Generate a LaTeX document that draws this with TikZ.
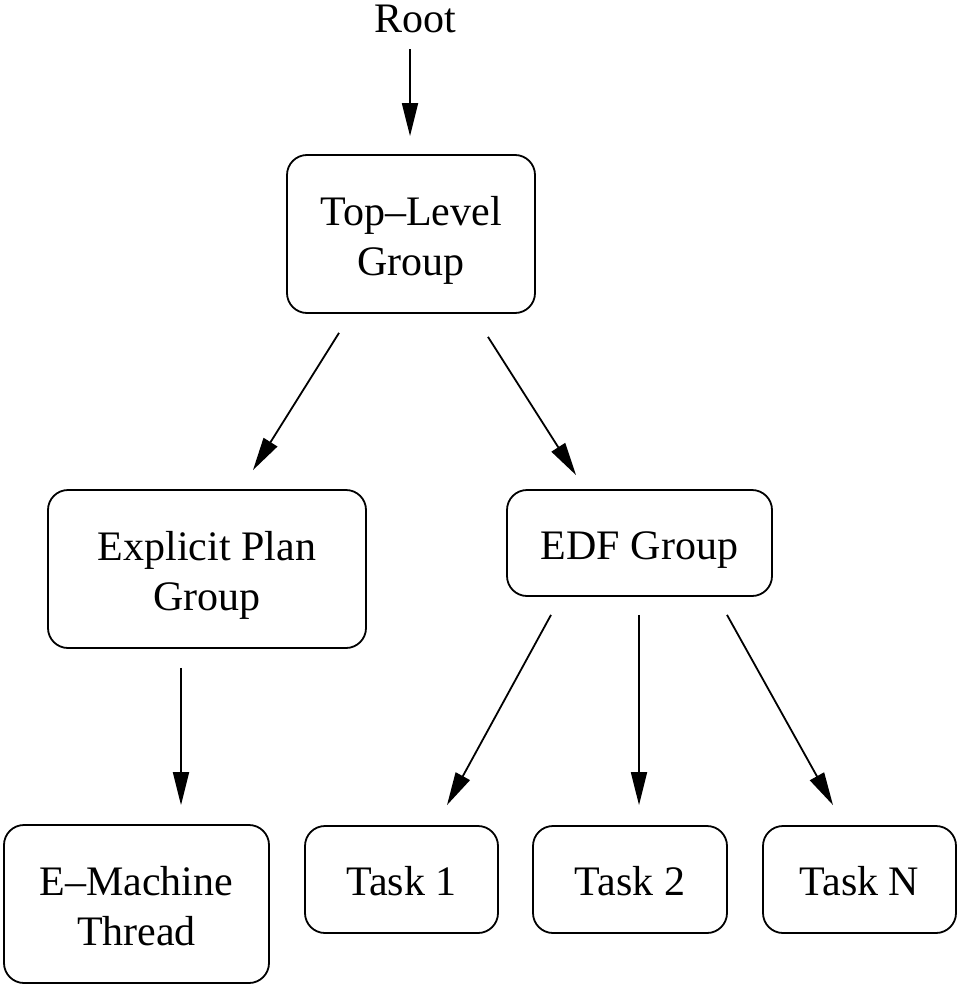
\documentclass[tikz,border=0pt]{standalone}
\usepackage{fontspec}
\setmainfont{Liberation Serif}
\usetikzlibrary{arrows.meta}
\newcommand\boxtext[1]{\raisebox{-6pt}[\height][\depth]{\begin{tabular}{@{}c@{}}#1\end{tabular}}}
\begin{document}
\begin{tikzpicture}[x=1pt,y=-1pt,
  box/.style={draw, line width=1.8pt, rounded corners=20pt, inner sep=0pt,
    font=\fontsize{42}{50}\selectfont},
  arr/.style={line width=1.8pt, -{Triangle[length=33pt,width=16pt]}},
  lbl/.style={inner sep=0pt, font=\fontsize{42}{50}\selectfont}]
\useasboundingbox (0,0) rectangle (957,985);
\node[lbl, anchor=base] (root) at (415,32) {Root};
\node[box, minimum width=248pt, minimum height=158pt] (top) at (411,234) {\boxtext{Top--Level\\Group}};
\node[box, minimum width=318pt, minimum height=158pt] (exp) at (207,569) {\boxtext{Explicit Plan\\Group}};
\node[box, minimum width=265pt, minimum height=106pt] (edf) at (639.5,543) {\boxtext{EDF Group}};
\node[box, minimum width=265pt, minimum height=158pt] (em) at (136.5,904) {\boxtext{E--Machine\\Thread}};
\node[box, minimum width=193pt, minimum height=107pt] (t1) at (401.5,879.5) {\boxtext{Task 1}};
\node[box, minimum width=194pt, minimum height=107pt] (t2) at (630,879.5) {\boxtext{Task 2}};
\node[box, minimum width=193pt, minimum height=107pt] (tn) at (859.5,879.5) {\boxtext{Task N}};
\draw[arr] ([xshift=-5pt,yshift=-17pt]root.base) -- ([xshift=-1pt,yshift=18pt]top.north);
\draw[arr] ([xshift=-72pt,yshift=-19pt]top.south) -- ([xshift=46pt,yshift=19pt]exp.north);
\draw[arr] ([xshift=77pt,yshift=-23pt]top.south) -- ([xshift=-63.5pt,yshift=14pt]edf.north);
\draw[arr] ([xshift=-26pt,yshift=-19pt]exp.south) -- ([xshift=44.5pt,yshift=19pt]em.north);
\draw[arr] ([xshift=-88.5pt,yshift=-18pt]edf.south) -- ([xshift=45.5pt,yshift=20pt]t1.north);
\draw[arr] ([xshift=-0.5pt,yshift=-18pt]edf.south) -- ([xshift=9pt,yshift=20pt]t2.north);
\draw[arr] ([xshift=87.5pt,yshift=-18pt]edf.south) -- ([xshift=-26.5pt,yshift=20pt]tn.north);
\end{tikzpicture}
\end{document}
